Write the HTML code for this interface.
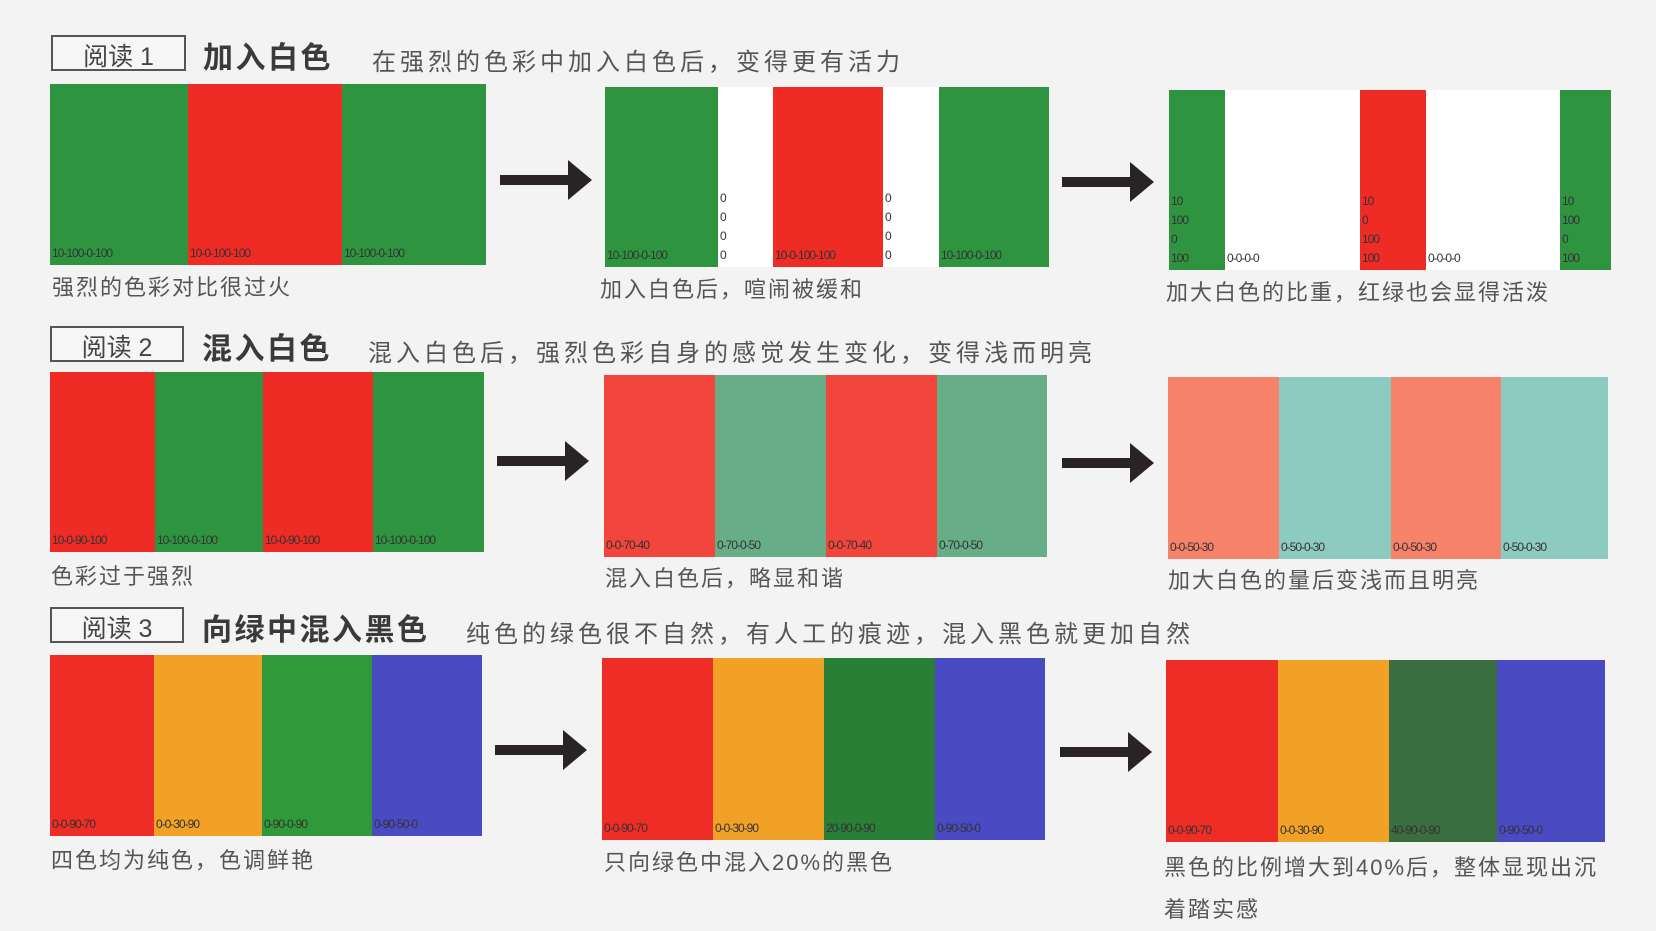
<!DOCTYPE html>
<html><head><meta charset="utf-8">
<style>
body{margin:0;width:1656px;height:925px;background:#f2f3f2;position:relative;overflow:hidden;font-family:"Liberation Sans","Noto Sans CJK SC",sans-serif;color:#444}
.a{position:absolute}
.box{position:absolute;border:2px solid #555;font-size:25px;text-align:center;box-sizing:border-box;color:#444;background:#f6f6f6}
.tt{position:absolute;font-size:30px;letter-spacing:2.5px;font-weight:bold;color:#3a3a3a}
.st{position:absolute;font-size:24px;letter-spacing:4px;color:#555}
.cap{position:absolute;font-size:22px;letter-spacing:2px;color:#555}
.lbl{position:absolute;bottom:2px;left:2px;font-size:12px;color:#333;letter-spacing:-1px;white-space:nowrap}
.arrow{position:absolute;height:10px;background:#2a2326}
.arrow:after{content:"";position:absolute;right:-22px;top:-15px;border-left:24px solid #2a2326;border-top:20px solid transparent;border-bottom:20px solid transparent}
</style></head><body>
<div class="box" style="left:51px;top:35px;width:135px;height:36px">阅读 1</div>
<div class="tt" style="left:203px;top:33px">加入白色</div>
<div class="st" style="left:372px;top:42px">在强烈的色彩中加入白色后，变得更有活力</div>
<div class="box" style="left:50px;top:326px;width:134px;height:36px">阅读 2</div>
<div class="tt" style="left:202px;top:324px">混入白色</div>
<div class="st" style="left:368px;top:333px">混入白色后，强烈色彩自身的感觉发生变化，变得浅而明亮</div>
<div class="box" style="left:50px;top:607px;width:134px;height:36px">阅读 3</div>
<div class="tt" style="left:202px;top:605px">向绿中混入黑色</div>
<div class="st" style="left:466px;top:614px">纯色的绿色很不自然，有人工的痕迹，混入黑色就更加自然</div>

<div class="cap" style="left:52px;top:270px">强烈的色彩对比很过火</div>
<div class="cap" style="left:600px;top:272px">加入白色后，喧闹被缓和</div>
<div class="cap" style="left:1166px;top:275px">加大白色的比重，红绿也会显得活泼</div>
<div class="cap" style="left:51px;top:559px">色彩过于强烈</div>
<div class="cap" style="left:605px;top:561px">混入白色后，略显和谐</div>
<div class="cap" style="left:1168px;top:563px">加大白色的量后变浅而且明亮</div>
<div class="cap" style="left:51px;top:843px">四色均为纯色，色调鲜艳</div>
<div class="cap" style="left:604px;top:845px">只向绿色中混入20%的黑色</div>
<div class="cap" style="left:1164px;top:847px;line-height:42px">黑色的比例增大到40%后，整体显现出沉<br>着踏实感</div>

<div class="arrow" style="left:500px;top:175px;width:70px"></div>
<div class="arrow" style="left:1062px;top:177px;width:70px"></div>
<div class="arrow" style="left:497px;top:456px;width:70px"></div>
<div class="arrow" style="left:1062px;top:458px;width:70px"></div>
<div class="arrow" style="left:495px;top:745px;width:70px"></div>
<div class="arrow" style="left:1060px;top:747px;width:70px"></div>

<script>
const G='#2f9440',R='#ee2b24',W='#ffffff';
const panels=[
 {x:50,y:84,h:181,edges:[50,188,342,486],colors:[G,R,G],labels:['10-100-0-100','10-0-100-100','10-100-0-100']},
 {x:605,y:87,h:180,edges:[605,718,773,883,939,1049],colors:[G,W,R,W,G],labels:['10-100-0-100','0\n0\n0\n0','10-0-100-100','0\n0\n0\n0','10-100-0-100']},
 {x:1169,y:90,h:180,edges:[1169,1225,1360,1426,1560,1611],colors:[G,W,R,W,G],labels:['10\n100\n0\n100','0-0-0-0','10\n0\n100\n100','0-0-0-0','10\n100\n0\n100']},
 {x:50,y:372,h:180,edges:[50,155,263,373,484],colors:[R,G,R,G],labels:['10-0-90-100','10-100-0-100','10-0-90-100','10-100-0-100']},
 {x:604,y:375,h:182,edges:[604,715,826,937,1047],colors:['#f2453b','#66ad88','#f2453b','#66ad88'],labels:['0-0-70-40','0-70-0-50','0-0-70-40','0-70-0-50']},
 {x:1168,y:377,h:182,edges:[1168,1279,1391,1501,1608],colors:['#f7826a','#8dcbc0','#f7826a','#8dcbc0'],labels:['0-0-50-30','0-50-0-30','0-0-50-30','0-50-0-30']},
 {x:50,y:655,h:181,edges:[50,154,262,372,482],colors:['#ef2d27','#f2a127','#309a3b','#4a4bc3'],labels:['0-0-90-70','0-0-30-90','0-90-0-90','0-90-50-0']},
 {x:602,y:658,h:182,edges:[602,713,824,935,1045],colors:['#ef2d27','#f2a127','#2a7f36','#4a4bc3'],labels:['0-0-90-70','0-0-30-90','20-90-0-90','0-90-50-0']},
 {x:1166,y:660,h:182,edges:[1166,1278,1389,1497,1605],colors:['#ef2d27','#f2a127','#3a6e40','#4a4bc3'],labels:['0-0-90-70','0-0-30-90','40-90-0-90','0-90-50-0']}
];
panels.forEach((p,pi)=>{
  p.colors.forEach((c,i)=>{
    const d=document.createElement('div');
    d.className='a';
    
    
    d.style.cssText=`left:${p.edges[i]}px;top:${p.y}px;width:${p.edges[i+1]-p.edges[i]}px;height:${p.h}px;background:${c}`;
    const l=document.createElement('div');
    l.className='lbl';
    
    
    l.style.whiteSpace='pre';
    l.style.lineHeight='19px';
    l.textContent=p.labels[i];
    d.appendChild(l);
    document.body.appendChild(d);
  });
});
</script>
</body></html>
